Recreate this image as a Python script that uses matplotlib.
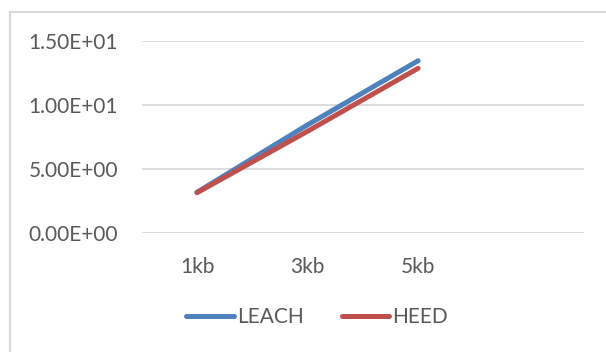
"""Line chart of LEACH vs HEED across packet sizes."""

import matplotlib
matplotlib.use("Agg")
import matplotlib.pyplot as plt
from matplotlib.patches import Rectangle
from matplotlib.ticker import FuncFormatter

categories = ["1kb", "3kb", "5kb", ""]
leach = [3.18, 8.45, 13.46]
heed = [3.15, 7.95, 12.87]
y_ticks = [0, 5, 10, 15]

BLUE = "#4F81BD"
RED = "#C0504D"
GRID = "#D9D9D9"
TEXT = "#595959"

plt.rcParams["font.family"] = ["Lato", "DejaVu Sans"]

fig = plt.figure(figsize=(6.06, 3.52), dpi=100)
ax = fig.add_axes([0.2338, 0.338, 0.9637 - 0.2338, 0.8835 - 0.338])

# outer chart frame, running off the right and bottom edges
fig.patches.append(Rectangle((10 / 606, -0.1), 1.2, 1 - 12 / 352 + 0.1,
                             transform=fig.transFigure, fill=False,
                             edgecolor=GRID, linewidth=1.5))

x = list(range(len(leach)))
ax.plot(x, leach, color=BLUE, linewidth=3.6, solid_capstyle="round", label="LEACH")
ax.plot(x, heed, color=RED, linewidth=3.6, solid_capstyle="round", label="HEED")

ax.set_xlim(-0.5, len(categories) - 0.5)
ax.set_ylim(0, 15)
ax.set_xticks(range(len(categories)))
ax.set_xticklabels(categories)
ax.set_yticks(y_ticks)
ax.yaxis.set_major_formatter(FuncFormatter(lambda v, _: f"{v:.2E}"))

ax.grid(axis="y", color=GRID, linewidth=1.3)
ax.set_axisbelow(True)
for side in ax.spines.values():
    side.set_visible(False)
ax.tick_params(length=0, labelsize=15, colors=TEXT)
ax.tick_params(axis="y", pad=17)
ax.tick_params(axis="x", pad=17)

leg = ax.legend(loc="center", bbox_to_anchor=(0.397, -0.4375), ncol=2,
                frameon=False, fontsize=15, handlelength=2.3,
                handletextpad=0.15, columnspacing=1.8, labelcolor=TEXT)

fig.savefig("out.png", dpi=100)
plt.close(fig)
